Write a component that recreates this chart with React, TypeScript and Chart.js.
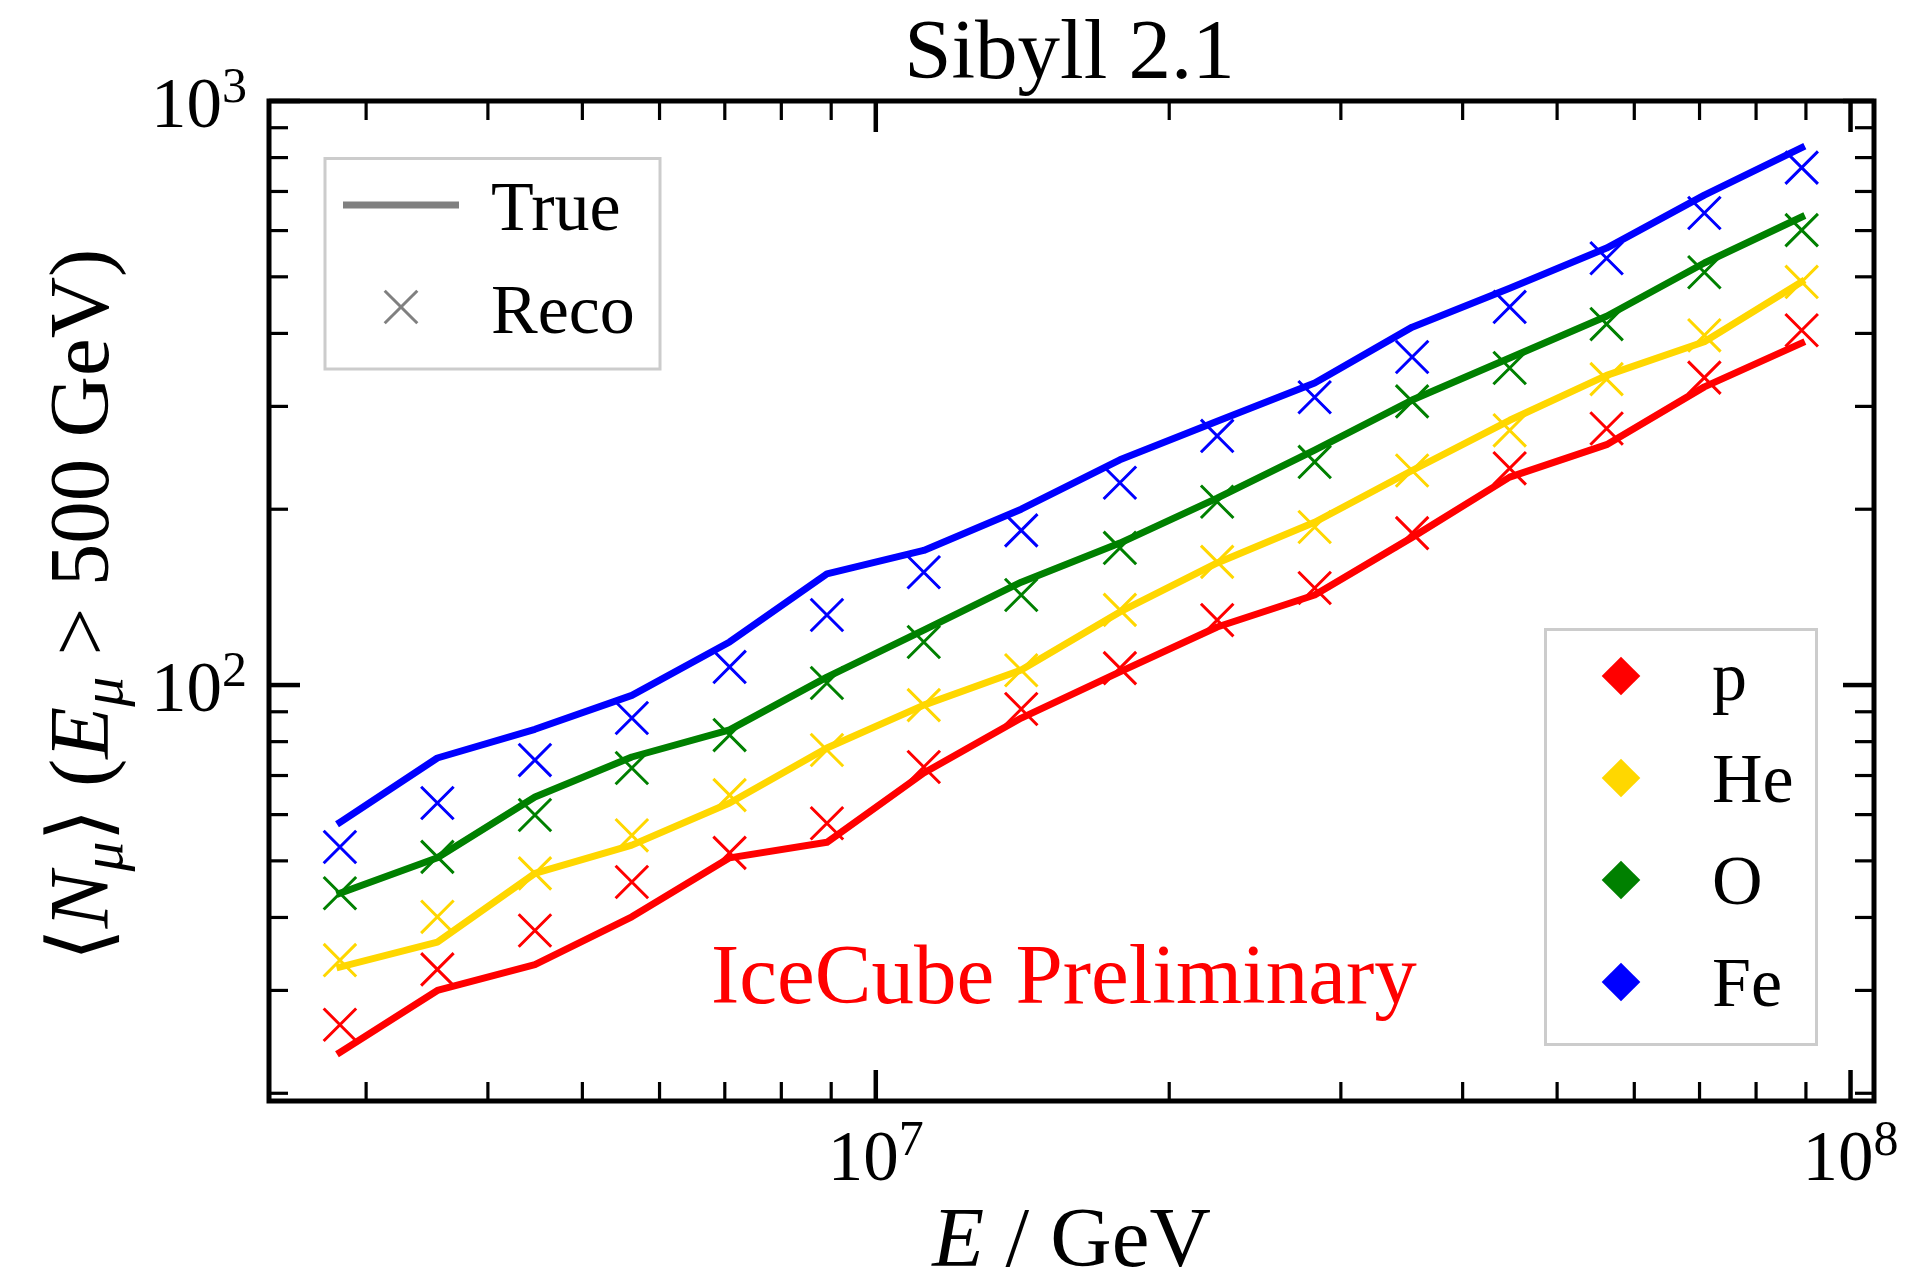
import React, { useEffect, useRef } from "react";
import { Chart, registerables } from "chart.js";

Chart.register(...registerables);

// ---------------- data ----------------
const energyGeV = [
  2.82e6, 3.55e6, 4.47e6, 5.62e6, 7.08e6, 8.91e6, 1.12e7, 1.41e7,
  1.78e7, 2.24e7, 2.82e7, 3.55e7, 4.47e7, 5.62e7, 7.08e7, 8.91e7,
];

const species = ["p", "He", "O", "Fe"];
const speciesColors = ["#ff0000", "#ffd700", "#008000", "#0000ff"];

const pTrue = [23.5, 30.0, 33.2, 40.1, 50.6, 53.8, 70.7, 87.8, 105.3, 125.7, 142.6, 179, 227, 258, 324, 385];
const pReco = [26.2, 32.6, 38.0, 46.0, 51.6, 58.0, 72.4, 91.0, 106.9, 129.2, 146.6, 182, 235, 275, 336, 405];
const heTrue = [32.9, 36.3, 47.6, 53.2, 62.8, 78.0, 92.4, 106.1, 133.4, 161.8, 190, 233, 284, 339, 387, 490];
const heReco = [33.8, 40.1, 47.6, 55.3, 64.8, 77.4, 92.4, 106.0, 134.5, 162.5, 186.5, 233, 273, 334, 397, 490];
const oTrue = [44.0, 50.6, 64.3, 75.3, 83.8, 103.2, 124.2, 150, 175, 209, 252.5, 307.6, 363, 428, 528, 633];
const oReco = [44.0, 50.8, 59.9, 72.1, 82.1, 100.8, 118.5, 142.6, 171.7, 206, 241, 306, 349, 415, 509, 601];
const feTrue = [58.2, 75.0, 84.0, 96.0, 118.5, 155, 170, 200, 243, 283, 329, 410, 478, 560, 690, 832];
const feReco = [52.8, 62.8, 74.4, 87.8, 107.4, 131.8, 156, 184, 222, 267, 311, 364.5, 444, 538, 643, 769];

const trueSeries = [pTrue, heTrue, oTrue, feTrue];
const recoSeries = [pReco, heReco, oReco, feReco];

const xMajorTicks = [1e7, 1e8];
const xMajorExp = ["7", "8"];
const xMinorTicks = [3e6, 4e6, 5e6, 6e6, 7e6, 8e6, 9e6, 2e7, 3e7, 4e7, 5e7, 6e7, 7e7, 8e7, 9e7];
const yMajorTicks = [1e2, 1e3];
const yMajorExp = ["2", "3"];
const yMinorTicks = [20, 30, 40, 50, 60, 70, 80, 90, 200, 300, 400, 500, 600, 700, 800, 900];

const titleText = "Sibyll 2.1";
const watermarkText = "IceCube Preliminary";
const styleLegendLabels = ["True", "Reco"];

// ---------------- styling ----------------
const SERIF = '"Liberation Serif", "Times New Roman", "DejaVu Serif", serif';
const SERIF_FB = '"Liberation Serif", "DejaVu Serif", "DejaVu Sans", serif';

function drawPow(ctx: CanvasRenderingContext2D, base: string, exp: string, x: number, baseline: number, align: "center" | "right") {
  ctx.font = `71px ${SERIF}`;
  const wb = ctx.measureText(base).width;
  ctx.font = `50px ${SERIF}`;
  const we = ctx.measureText(exp).width;
  const total = wb + we;
  const x0 = align === "center" ? x - total / 2 : x - total;
  ctx.textAlign = "left";
  ctx.textBaseline = "alphabetic";
  ctx.font = `71px ${SERIF}`;
  ctx.fillText(base, x0, baseline);
  ctx.font = `50px ${SERIF}`;
  ctx.fillText(exp, x0 + wb, baseline - 25);
}

function line(ctx: CanvasRenderingContext2D, x1: number, y1: number, x2: number, y2: number, w: number) {
  ctx.lineWidth = w;
  ctx.beginPath();
  ctx.moveTo(x1, y1);
  ctx.lineTo(x2, y2);
  ctx.stroke();
}

const framePlugin = {
  id: "frame",
  afterDraw(chart: any) {
    const ctx: CanvasRenderingContext2D = chart.ctx;
    const a = chart.chartArea;
    const xs = chart.scales.x;
    const ys = chart.scales.y;
    ctx.save();
    ctx.strokeStyle = "#000";
    ctx.fillStyle = "#000";
    ctx.lineCap = "butt";

    const MAJ = 31, MIN = 19;
    for (const v of xMinorTicks) {
      const p = xs.getPixelForValue(v);
      line(ctx, p, a.bottom, p, a.bottom - MIN, 3.2);
      line(ctx, p, a.top, p, a.top + MIN, 3.2);
    }
    for (const v of xMajorTicks) {
      const p = xs.getPixelForValue(v);
      line(ctx, p, a.bottom, p, a.bottom - MAJ, 4.5);
      line(ctx, p, a.top, p, a.top + MAJ, 4.5);
    }
    for (const v of yMinorTicks) {
      const p = ys.getPixelForValue(v);
      line(ctx, a.left, p, a.left + MIN, p, 3.2);
      line(ctx, a.right, p, a.right - MIN, p, 3.2);
    }
    for (const v of yMajorTicks) {
      const p = ys.getPixelForValue(v);
      line(ctx, a.left, p, a.left + MAJ, p, 4.5);
      line(ctx, a.right, p, a.right - MAJ, p, 4.5);
    }
    ctx.lineWidth = 5;
    ctx.lineJoin = "miter";
    ctx.strokeRect(a.left, a.top, a.right - a.left, a.bottom - a.top);

    // tick labels
    xMajorTicks.forEach((v, i) => {
      drawPow(ctx, "10", xMajorExp[i], xs.getPixelForValue(v), a.bottom + 79, "center");
    });
    yMajorTicks.forEach((v, i) => {
      drawPow(ctx, "10", yMajorExp[i], a.left - 22, ys.getPixelForValue(v) + 26, "right");
    });

    const cx = (a.left + a.right) / 2;
    // title
    ctx.font = `85px ${SERIF}`;
    ctx.textAlign = "center";
    ctx.fillText(titleText, cx - 2, a.top - 23);

    // x label: E / GeV
    {
      const segs = [
        { t: "E", f: `italic 85px ${SERIF}` },
        { t: " / GeV", f: `85px ${SERIF}` },
      ];
      ctx.textAlign = "left";
      let tot = 0;
      const ws = segs.map((s) => { ctx.font = s.f; const w = ctx.measureText(s.t).width; tot += w; return w; });
      let x = cx - tot / 2;
      segs.forEach((s, i) => { ctx.font = s.f; ctx.fillText(s.t, x, a.bottom + 165); x += ws[i]; });
    }

    // y label
    {
      const segs = [
        { t: "\u27E8", f: `85px ${SERIF_FB}`, dy: 0 },
        { t: "N", f: `italic 85px ${SERIF}`, dy: 0 },
        { t: "\u03BC", f: `italic 60px ${SERIF}`, dy: 14 },
        { t: "\u27E9", f: `85px ${SERIF_FB}`, dy: 0 },
        { t: " (", f: `85px ${SERIF}`, dy: 0 },
        { t: "E", f: `italic 85px ${SERIF}`, dy: 0 },
        { t: "\u03BC", f: `italic 60px ${SERIF}`, dy: 14 },
        { t: " > 500 GeV)", f: `85px ${SERIF}`, dy: 0 },
      ];
      let tot = 0;
      const ws = segs.map((s) => { ctx.font = s.f; const w = ctx.measureText(s.t).width; tot += w; return w; });
      ctx.save();
      ctx.translate(108, (a.top + a.bottom) / 2 + 4);
      ctx.rotate(-Math.PI / 2);
      ctx.textAlign = "left";
      let x = -tot / 2;
      segs.forEach((s, i) => { ctx.font = s.f; ctx.fillText(s.t, x, s.dy); x += ws[i]; });
      ctx.restore();
    }

    // watermark
    ctx.fillStyle = "#ff0000";
    ctx.font = `85px ${SERIF}`;
    ctx.textAlign = "left";
    ctx.fillText(watermarkText, 711, 1003);

    // legend 1 (style)
    ctx.fillStyle = "rgba(255,255,255,0.8)";
    ctx.fillRect(325, 158.5, 335, 210.5);
    ctx.strokeStyle = "#cccccc";
    ctx.lineWidth = 3;
    ctx.strokeRect(325, 158.5, 335, 210.5);
    ctx.strokeStyle = "#808080";
    line(ctx, 343, 205, 459, 205, 7);
    const r = 16.3;
    line(ctx, 401 - r, 307 - r, 401 + r, 307 + r, 3);
    line(ctx, 401 - r, 307 + r, 401 + r, 307 - r, 3);
    ctx.fillStyle = "#000";
    ctx.font = `70px ${SERIF}`;
    ctx.fillText(styleLegendLabels[0], 491, 230);
    ctx.fillText(styleLegendLabels[1], 491, 333);

    // legend 2 (species)
    ctx.fillStyle = "rgba(255,255,255,0.8)";
    ctx.fillRect(1545.5, 629.5, 271, 415);
    ctx.strokeStyle = "#cccccc";
    ctx.lineWidth = 3;
    ctx.strokeRect(1545.5, 629.5, 271, 415);
    species.forEach((s, i) => {
      const cy = 676 + i * 102;
      ctx.fillStyle = speciesColors[i];
      ctx.beginPath();
      ctx.moveTo(1621, cy - 19.3);
      ctx.lineTo(1621 + 19.3, cy);
      ctx.lineTo(1621, cy + 19.3);
      ctx.lineTo(1621 - 19.3, cy);
      ctx.closePath();
      ctx.fill();
      ctx.fillStyle = "#000";
      ctx.font = `70px ${SERIF}`;
      ctx.fillText(s, 1712, cy + 24);
    });
    ctx.restore();
  },
};

export default function App() {
  const ref = useRef<HTMLCanvasElement>(null);
  useEffect(() => {
    const canvas = ref.current;
    if (!canvas) return;
    const mk = (ys: number[]) => energyGeV.map((x, i) => ({ x, y: ys[i] }));
    const datasets: any[] = [];
    species.forEach((s, k) => {
      datasets.push({
        label: `${s} True`,
        data: mk(trueSeries[k]),
        borderColor: speciesColors[k],
        backgroundColor: speciesColors[k],
        borderWidth: 7,
        pointRadius: 0,
        fill: false,
        tension: 0,
        borderCapStyle: "square",
        borderJoinStyle: "round",
      });
      datasets.push({
        label: `${s} Reco`,
        data: mk(recoSeries[k]),
        showLine: false,
        pointStyle: "crossRot",
        pointRadius: 23,
        pointBorderWidth: 3,
        pointBorderColor: speciesColors[k],
        pointBackgroundColor: speciesColors[k],
        borderColor: speciesColors[k],
      });
    });
    const chart = new Chart(canvas, {
      type: "line",
      data: { datasets },
      options: {
        responsive: false,
        maintainAspectRatio: false,
        devicePixelRatio: 1,
        animation: false,
        events: [],
        layout: { padding: { left: 269, right: 56, top: 101, bottom: 176 } },
        plugins: {
          legend: { display: false },
          title: { display: false },
          tooltip: { enabled: false },
        },
        scales: {
          x: { type: "logarithmic", min: 2.385e6, max: 1.057e8, bounds: "data", display: false },
          y: { type: "logarithmic", min: 19.4, max: 1000, bounds: "data", display: false },
        },
      } as any,
      plugins: [framePlugin],
    });
    return () => chart.destroy();
  }, []);
  return (
    <div style={{ position: "fixed", left: 0, top: 0, width: 1930, height: 1277, background: "#fff" }}>
      <canvas ref={ref} width={1930} height={1277} style={{ display: "block", width: 1930, height: 1277 }} />
    </div>
  );
}
